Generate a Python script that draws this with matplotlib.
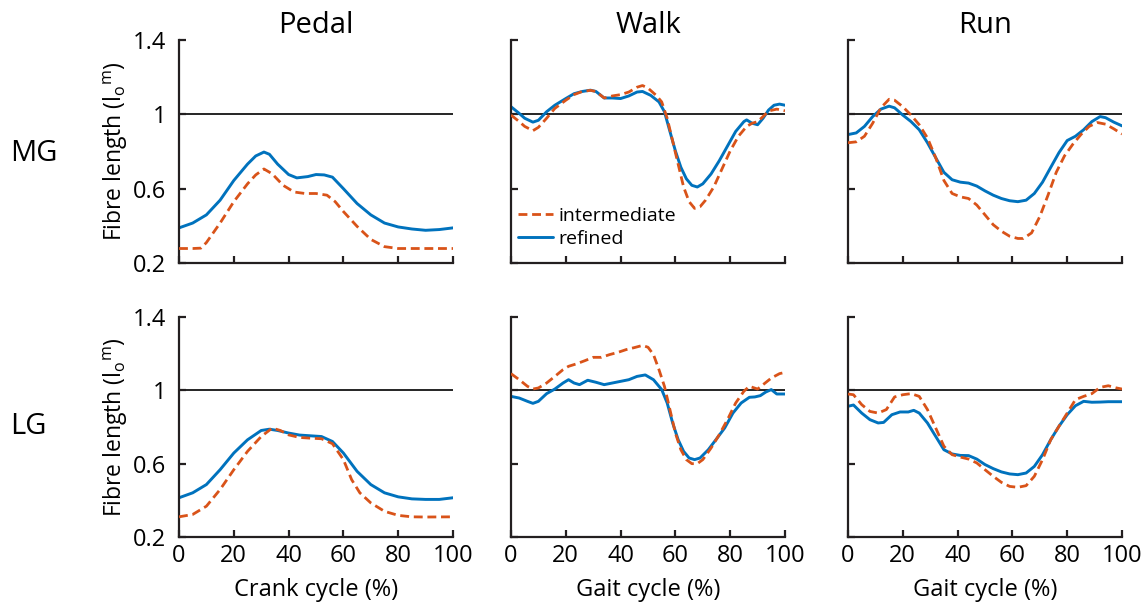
import matplotlib
matplotlib.use("Agg")
import matplotlib.pyplot as plt

plt.rcParams['font.family'] = ['Open Sans', 'DejaVu Sans']
plt.rcParams['mathtext.fontset'] = 'custom'
plt.rcParams['mathtext.rm'] = 'Open Sans'
plt.rcParams['mathtext.it'] = 'Open Sans:italic'

# ---------------- data ----------------
row_labels = ["MG", "LG"]
col_titles = ["Pedal", "Walk", "Run"]
xlabels = ["Crank cycle (%)", "Gait cycle (%)", "Gait cycle (%)"]
series_names = ["intermediate", "refined"]
yticks = [0.2, 0.6, 1.0, 1.4]
ytick_labels = ["0.2", "0.6", "1", "1.4"]
xticks = [0, 20, 40, 60, 80, 100]

# MG - Pedal
mg_pedal_ref_x = [0, 5, 10, 15, 20, 25, 28, 31, 33, 36, 40, 43, 47, 50, 53, 56, 60, 65, 70, 75, 80, 85, 90, 95, 100]
mg_pedal_ref_y = [0.389, 0.415, 0.459, 0.538, 0.644, 0.732, 0.776, 0.797, 0.785, 0.732, 0.676, 0.658, 0.665, 0.676, 0.674, 0.662, 0.600, 0.520, 0.459, 0.415, 0.394, 0.383, 0.376, 0.380, 0.389]
mg_pedal_int_x = [0, 5, 8, 10, 15, 20, 25, 28, 31, 34, 38, 42, 46, 50, 54, 57, 60, 65, 70, 75, 80, 90, 100]
mg_pedal_int_y = [0.278, 0.278, 0.280, 0.310, 0.415, 0.530, 0.626, 0.674, 0.706, 0.680, 0.618, 0.582, 0.574, 0.574, 0.565, 0.530, 0.477, 0.397, 0.327, 0.288, 0.278, 0.278, 0.278]

# MG - Walk
mg_walk_ref_x = [0, 3, 5, 8, 10, 13, 16, 20, 23, 26, 29, 31, 34, 37, 40, 43, 46, 48, 51, 54, 56, 58, 60, 62, 64, 66, 68, 70, 73, 76, 79, 82, 85, 86, 88, 90, 92, 94, 96, 98, 100]
mg_walk_ref_y = [1.041, 1.005, 0.979, 0.958, 0.968, 1.014, 1.049, 1.085, 1.111, 1.123, 1.130, 1.123, 1.088, 1.088, 1.085, 1.099, 1.120, 1.123, 1.102, 1.067, 1.014, 0.908, 0.803, 0.715, 0.653, 0.618, 0.609, 0.626, 0.679, 0.750, 0.829, 0.908, 0.961, 0.970, 0.952, 0.944, 0.979, 1.023, 1.049, 1.055, 1.049]
mg_walk_int_x = [0, 3, 5, 8, 10, 13, 16, 20, 23, 26, 29, 31, 34, 37, 40, 43, 46, 48, 50, 53, 55, 57, 59, 61, 63, 65, 67, 69, 71, 74, 77, 80, 83, 86, 88, 90, 92, 94, 97, 100]
mg_walk_int_y = [0.996, 0.961, 0.935, 0.912, 0.930, 0.979, 1.032, 1.076, 1.106, 1.123, 1.129, 1.123, 1.088, 1.099, 1.106, 1.120, 1.146, 1.155, 1.141, 1.102, 1.067, 0.979, 0.856, 0.732, 0.609, 0.530, 0.494, 0.503, 0.538, 0.609, 0.706, 0.803, 0.882, 0.935, 0.952, 0.961, 0.988, 1.018, 1.028, 1.019]

# MG - Run
mg_run_ref_x = [0, 3, 6, 9, 12, 15, 17, 20, 23, 26, 29, 32, 35, 38, 41, 44, 47, 50, 53, 56, 59, 62, 65, 68, 71, 74, 77, 80, 83, 86, 89, 92, 94, 97, 100]
mg_run_ref_y = [0.891, 0.900, 0.935, 0.988, 1.028, 1.044, 1.035, 0.996, 0.961, 0.917, 0.847, 0.767, 0.688, 0.648, 0.635, 0.630, 0.614, 0.588, 0.565, 0.547, 0.535, 0.530, 0.538, 0.574, 0.635, 0.715, 0.794, 0.859, 0.882, 0.917, 0.961, 0.988, 0.982, 0.958, 0.938]
mg_run_int_x = [0, 3, 6, 9, 12, 15, 17, 20, 23, 26, 29, 32, 35, 38, 41, 44, 47, 50, 53, 56, 59, 62, 64, 67, 70, 73, 76, 79, 82, 85, 88, 91, 94, 97, 100]
mg_run_int_y = [0.847, 0.852, 0.882, 0.952, 1.035, 1.081, 1.076, 1.041, 0.996, 0.944, 0.873, 0.767, 0.644, 0.574, 0.556, 0.547, 0.512, 0.459, 0.406, 0.371, 0.344, 0.332, 0.332, 0.362, 0.450, 0.565, 0.688, 0.776, 0.838, 0.891, 0.935, 0.956, 0.947, 0.922, 0.894]

# LG - Pedal
lg_pedal_ref_x = [0, 5, 10, 15, 20, 25, 30, 33, 36, 40, 44, 48, 52, 56, 60, 65, 70, 75, 80, 85, 90, 95, 100]
lg_pedal_ref_y = [0.414, 0.441, 0.486, 0.567, 0.658, 0.730, 0.781, 0.788, 0.781, 0.767, 0.756, 0.752, 0.748, 0.721, 0.658, 0.558, 0.486, 0.441, 0.419, 0.408, 0.405, 0.405, 0.414]
lg_pedal_int_x = [0, 5, 10, 15, 20, 25, 30, 34, 37, 40, 44, 48, 52, 56, 60, 63, 66, 70, 75, 80, 85, 90, 100]
lg_pedal_int_y = [0.310, 0.323, 0.368, 0.459, 0.567, 0.667, 0.748, 0.794, 0.781, 0.757, 0.743, 0.739, 0.736, 0.709, 0.622, 0.513, 0.441, 0.386, 0.340, 0.318, 0.310, 0.309, 0.310]

# LG - Walk
lg_walk_ref_x = [0, 3, 6, 8, 10, 13, 16, 19, 21, 23, 25, 28, 31, 34, 37, 40, 43, 46, 49, 52, 55, 57, 59, 61, 63, 65, 67, 69, 72, 75, 78, 81, 84, 87, 89, 91, 93, 95, 97, 100]
lg_walk_ref_y = [0.967, 0.958, 0.940, 0.929, 0.940, 0.982, 1.007, 1.040, 1.058, 1.040, 1.031, 1.055, 1.044, 1.031, 1.040, 1.049, 1.058, 1.076, 1.084, 1.058, 1.004, 0.931, 0.822, 0.731, 0.667, 0.631, 0.622, 0.631, 0.676, 0.735, 0.795, 0.876, 0.931, 0.962, 0.964, 0.971, 0.991, 1.004, 0.980, 0.980]
lg_walk_int_x = [0, 3, 6, 8, 10, 13, 16, 19, 21, 24, 27, 30, 33, 36, 39, 42, 45, 48, 50, 52, 54, 56, 58, 60, 62, 64, 66, 68, 70, 73, 76, 79, 82, 85, 87, 90, 92, 95, 98, 100]
lg_walk_int_y = [1.091, 1.058, 1.022, 1.007, 1.013, 1.040, 1.076, 1.113, 1.131, 1.145, 1.162, 1.180, 1.180, 1.195, 1.207, 1.222, 1.233, 1.245, 1.235, 1.195, 1.113, 1.022, 0.895, 0.767, 0.676, 0.622, 0.600, 0.600, 0.622, 0.685, 0.758, 0.840, 0.931, 0.995, 1.022, 1.007, 1.031, 1.067, 1.091, 1.098]

# LG - Run
lg_run_ref_x = [0, 2, 5, 8, 11, 13, 16, 19, 22, 24, 26, 29, 32, 35, 38, 41, 44, 47, 50, 53, 56, 59, 62, 65, 68, 71, 74, 77, 80, 83, 86, 89, 92, 95, 100]
lg_run_ref_y = [0.913, 0.920, 0.876, 0.840, 0.822, 0.825, 0.867, 0.882, 0.882, 0.891, 0.876, 0.822, 0.749, 0.676, 0.653, 0.645, 0.644, 0.625, 0.595, 0.573, 0.555, 0.544, 0.540, 0.549, 0.585, 0.649, 0.731, 0.804, 0.867, 0.916, 0.940, 0.935, 0.936, 0.938, 0.938]
lg_run_int_x = [0, 2, 5, 8, 11, 14, 17, 20, 23, 26, 29, 32, 35, 38, 41, 44, 47, 50, 53, 56, 59, 62, 65, 68, 71, 74, 77, 80, 83, 86, 89, 92, 95, 98, 100]
lg_run_int_y = [0.980, 0.976, 0.922, 0.885, 0.876, 0.895, 0.964, 0.976, 0.982, 0.967, 0.895, 0.795, 0.695, 0.649, 0.636, 0.625, 0.604, 0.567, 0.531, 0.498, 0.476, 0.471, 0.480, 0.531, 0.622, 0.731, 0.804, 0.876, 0.949, 0.967, 0.982, 1.016, 1.025, 1.013, 1.007]

panels = [
    [(mg_pedal_int_x, mg_pedal_int_y, mg_pedal_ref_x, mg_pedal_ref_y),
     (mg_walk_int_x, mg_walk_int_y, mg_walk_ref_x, mg_walk_ref_y),
     (mg_run_int_x, mg_run_int_y, mg_run_ref_x, mg_run_ref_y)],
    [(lg_pedal_int_x, lg_pedal_int_y, lg_pedal_ref_x, lg_pedal_ref_y),
     (lg_walk_int_x, lg_walk_int_y, lg_walk_ref_x, lg_walk_ref_y),
     (lg_run_int_x, lg_run_int_y, lg_run_ref_x, lg_run_ref_y)],
]

# ---------------- styling ----------------
C_INT = '#D95319'
C_REF = '#0072BD'
AX_COL = '#231f20'
W, H = 1145, 603

fig = plt.figure(figsize=(W / 100, H / 100), dpi=100)

lefts_px = [179, 511, 848]
width_px = 274
rows_px = [(40, 263), (317, 537)]

for r in range(2):
    top, bot = rows_px[r]
    for c in range(3):
        ax = fig.add_axes([lefts_px[c] / W, 1 - bot / H, width_px / W, (bot - top) / H])
        xi, yi, xr, yr = panels[r][c]
        ax.plot([0, 100], [1, 1], color='black', lw=1.2, zorder=1)
        ax.plot(xi, yi, color=C_INT, lw=2.0, dashes=(3.2, 1.7), zorder=3,
                label=series_names[0], dash_joinstyle='round')
        ax.plot(xr, yr, color=C_REF, lw=2.1, zorder=2, label=series_names[1],
                solid_joinstyle='round', solid_capstyle='round')
        ax.set_xlim(0, 100)
        ax.set_ylim(0.2, 1.4)
        for s in ['top', 'right']:
            ax.spines[s].set_visible(False)
        for s in ['left', 'bottom']:
            ax.spines[s].set_linewidth(1.6)
            ax.spines[s].set_color(AX_COL)
        ax.set_xticks(xticks)
        ax.set_yticks(yticks)
        ax.tick_params(direction='in', length=5, width=1.6, color=AX_COL,
                       labelsize=17, labelcolor='black')
        ax.tick_params(axis='x', pad=5)
        ax.tick_params(axis='y', pad=9)
        ax.patch.set_visible(False)
        if c == 0:
            ax.set_yticklabels(ytick_labels)
            ax.set_ylabel('Fibre length (l$_\\mathrm{o}$$^\\mathrm{m}$)', fontsize=16.5)
            ax.yaxis.set_label_coords(-0.18, 0.5)
        else:
            ax.set_yticklabels([])
        if r == 1:
            ax.set_xticklabels([str(t) for t in xticks])
            ax.set_xlabel(xlabels[c], fontsize=17, labelpad=7)
        else:
            ax.set_xticklabels([])
            ax.set_title(col_titles[c], fontsize=21, pad=4)
        if r == 0 and c == 1:
            ax.legend(loc='center left', bbox_to_anchor=(0.025, 0.16), frameon=False,
                      fontsize=14, handlelength=1.8, handletextpad=0.3,
                      labelspacing=0.25, borderpad=0, borderaxespad=0)

fig.text(10 / W, 1 - 153 / H, row_labels[0], fontsize=21, ha='left', va='center')
fig.text(10 / W, 1 - 427 / H, row_labels[1], fontsize=21, ha='left', va='center')

fig.savefig('out.png', dpi=100)
